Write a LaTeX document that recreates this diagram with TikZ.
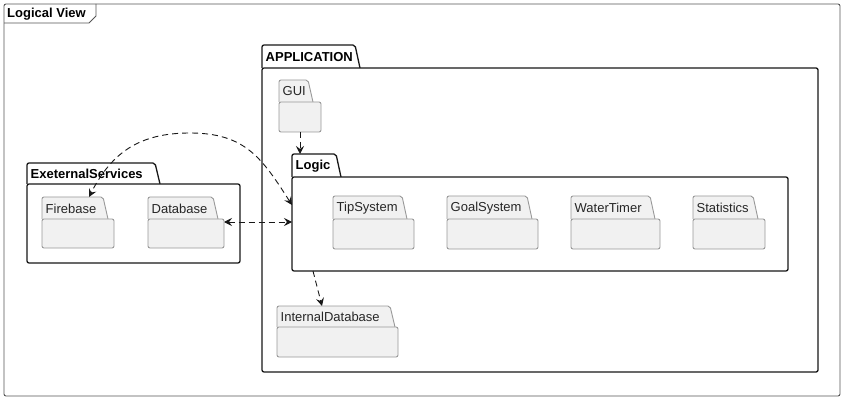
\documentclass[tikz,border=0pt]{standalone}
\usepackage{fontspec}
\setmainfont{Liberation Sans}
\usetikzlibrary{arrows.meta,calc}
\definecolor{linecol}{HTML}{181818}
\definecolor{pkgfill}{HTML}{F1F1F1}
\definecolor{pkgborder}{HTML}{999999}
\definecolor{framecol}{HTML}{555555}
\tikzset{
  outerpkg/.style={draw=linecol, fill=white, line width=1.3pt},
  innerpkg/.style={draw=pkgborder, fill=pkgfill, line width=0.9pt},
  outerlbl/.style={font=\fontsize{13}{15}\selectfont\bfseries, text=black, inner sep=0pt},
  innerlbl/.style={font=\fontsize{13}{15}\selectfont, text=black!85, inner sep=0pt},
  framebox/.style={draw=framecol, line width=0.9pt},
  dep/.style={draw=linecol, line width=0.9pt, dash pattern=on 6pt off 4pt,
    arrows={-Stealth[length=8pt,width=8pt,inset=3pt]}},
  dep2/.style={draw=linecol, line width=0.9pt, dash pattern=on 6pt off 4pt,
    arrows={Stealth[length=8pt,width=8pt,inset=3pt]-Stealth[length=8pt,width=8pt,inset=3pt]}}
}
% #1 name, #2 left, #3 tab top, #4 body top, #5 tab right, #6 right, #7 bottom, #8 label, #9 kind
\newcommand{\pkgbox}[9]{%
  \filldraw[#9pkg, rounded corners=2pt] (#2,#4) -- (#2,#3) -- (#5,#3) -- ({#5+5},#4);
  \node[inner sep=0pt, outer sep=0pt, minimum width={#5-#2}, minimum height={#4-#3},
        anchor=north west] (#1-tab) at (#2,#3) {};
  \node[#9pkg, rounded corners=2pt, anchor=north west, minimum width={#6-#2},
        minimum height={#7-#4}, inner sep=0pt, outer sep=0pt] (#1) at (#2,#4) {};
  \node[#9lbl, anchor=west] (#1-label) at ({#2+3.5},{(#3+#4)/2+0.5}) {#8};
}
\begin{document}
\begin{tikzpicture}[x=1pt,y=-1pt]
\useasboundingbox (0,0) rectangle (844,401);
\fill[white] (0,0) rectangle (844,401);
% frame
\draw[framebox, rounded corners=2pt] (4,4) rectangle (840,396);
\draw[framebox] (4,23) -- (89,23) -- (96,16) -- (96,4);
\node[outerlbl, anchor=west] (title) at (7,14) {Logical View};
% packages
\pkgbox{APP}{262}{45}{68}{355}{818}{372}{APPLICATION}{outer}
\pkgbox{GUI}{279}{80}{102}{308}{321}{132}{GUI}{inner}
\pkgbox{Logic}{292}{154}{177}{336}{788}{271}{Logic}{outer}
\pkgbox{TipSystem}{333}{196}{219}{402}{414}{249}{TipSystem}{inner}
\pkgbox{GoalSystem}{447}{196}{219}{527}{538}{249}{GoalSystem}{inner}
\pkgbox{WaterTimer}{571}{196}{219}{650}{660}{249}{WaterTimer}{inner}
\pkgbox{Statistics}{693}{196}{219}{753}{765}{249}{Statistics}{inner}
\pkgbox{IntDB}{277}{306}{327}{390}{398}{357}{InternalDatabase}{inner}
\pkgbox{Ext}{27}{163}{184}{155}{240}{263}{ExeternalServices}{outer}
\pkgbox{Firebase}{42}{197}{219}{103}{114}{248}{Firebase}{inner}
\pkgbox{Database}{148}{197}{219}{213}{224}{248}{Database}{inner}
% connectors
\draw[dep] (GUI.south) -- (GUI.south |- Logic-tab.north);
\draw[dep2] ([yshift=-3pt]Database.north east) -- ([yshift=-3pt]Database.north east -| Logic.west);
\draw[dep2] ([yshift=-28pt]Logic.north west)
  .. controls (262,158) and (245,133) .. (190,133)
  .. controls (140,133) and (112,152) .. ($(Firebase-tab.north west)+(47,0)$);
\draw[dep] ([xshift=21pt]Logic.south west) -- ($(IntDB-tab.north west)+(45,0)$);
\end{tikzpicture}
\end{document}
